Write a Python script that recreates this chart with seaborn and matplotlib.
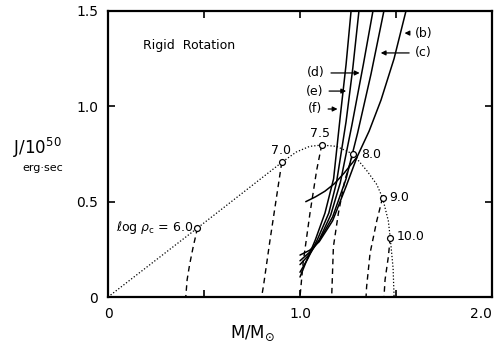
import matplotlib
matplotlib.use("Agg")
import matplotlib.pyplot as plt
import seaborn as sns

# critical (mass-shedding) points, labelled by log rho_c
crit_labels = ["6.0", "7.0", "7.5", "8.0", "9.0", "10.0"]
crit_mass = [0.466, 0.905, 1.113, 1.276, 1.43, 1.47]
crit_j = [0.362, 0.706, 0.797, 0.75, 0.52, 0.31]

# dotted envelope through the critical points
limit_mass = [0.0, 0.466, 0.905, 0.98, 1.05, 1.113, 1.19, 1.276, 1.35, 1.40, 1.43, 1.46, 1.47, 1.485, 1.49]
limit_j = [0.0, 0.362, 0.706, 0.76, 0.79, 0.797, 0.79, 0.75, 0.66, 0.59, 0.52, 0.40, 0.31, 0.15, 0.0]

# dashed constant-density sequences
seq60_mass = [0.466, 0.443, 0.425, 0.412, 0.405]
seq60_j = [0.362, 0.26, 0.17, 0.09, 0.0]
seq70_mass = [0.905, 0.878, 0.844, 0.81, 0.80]
seq70_j = [0.706, 0.526, 0.30, 0.06, 0.0]
seq75_mass = [1.113, 1.087, 1.052, 1.016, 1.0]
seq75_j = [0.797, 0.666, 0.44, 0.178, 0.0]
seq80_mass = [1.276, 1.234, 1.20, 1.174, 1.165]
seq80_j = [0.75, 0.614, 0.44, 0.264, 0.0]
seq90_mass = [1.43, 1.40, 1.365, 1.347, 1.344]
seq90_j = [0.52, 0.40, 0.23, 0.054, 0.0]
seq100_mass = [1.47, 1.46, 1.443, 1.4375]
seq100_j = [0.31, 0.21, 0.09, 0.0]

# solid evolutionary curves
curve_b_mass = [1.03, 1.08, 1.13, 1.18, 1.23, 1.297, 1.36, 1.422, 1.49, 1.552]
curve_b_j = [0.50, 0.525, 0.555, 0.595, 0.65, 0.734, 0.87, 1.033, 1.25, 1.5]
curve_c_mass = [1.00, 1.05, 1.10, 1.17, 1.24, 1.30, 1.37, 1.437]
curve_c_j = [0.19, 0.235, 0.295, 0.42, 0.62, 0.86, 1.17, 1.5]
curve_d_mass = [1.00, 1.05, 1.10, 1.16, 1.21, 1.27, 1.33, 1.38]
curve_d_j = [0.17, 0.225, 0.30, 0.43, 0.60, 0.90, 1.22, 1.5]
curve_e_mass = [1.00, 1.04, 1.09, 1.15, 1.19, 1.24, 1.275, 1.307]
curve_e_j = [0.13, 0.20, 0.30, 0.44, 0.60, 0.92, 1.2, 1.5]
curve_f_mass = [1.00, 1.03, 1.08, 1.13, 1.175, 1.21, 1.24, 1.266]
curve_f_j = [0.105, 0.18, 0.30, 0.44, 0.62, 0.95, 1.22, 1.5]
curve_x_mass = [1.00, 1.05, 1.10, 1.17, 1.24, 1.297]
curve_x_j = [0.22, 0.245, 0.29, 0.40, 0.58, 0.734]

sns.set_theme(style="ticks")
plt.rcParams["font.family"] = ["DejaVu Sans"]
plt.rcParams["text.color"] = "black"
plt.rcParams["axes.labelcolor"] = "black"

fig = plt.figure(figsize=(5.01, 3.51), dpi=100)
ax = fig.add_axes([0.2156, 0.1538, 0.7664, 0.8149])

sns.lineplot(x=limit_mass, y=limit_j, sort=False, estimator=None, ax=ax,
             color="black", lw=0.9, linestyle=(0, (1, 1.6)))

for m, j in [(seq60_mass, seq60_j), (seq70_mass, seq70_j), (seq75_mass, seq75_j),
             (seq80_mass, seq80_j), (seq90_mass, seq90_j), (seq100_mass, seq100_j)]:
    sns.lineplot(x=m, y=j, sort=False, estimator=None, ax=ax,
                 color="black", lw=1.0, linestyle=(0, (4, 3)))

for m, j in [(curve_b_mass, curve_b_j), (curve_c_mass, curve_c_j), (curve_d_mass, curve_d_j),
             (curve_e_mass, curve_e_j), (curve_f_mass, curve_f_j), (curve_x_mass, curve_x_j)]:
    sns.lineplot(x=m, y=j, sort=False, estimator=None, ax=ax, color="black", lw=1.1)

sns.scatterplot(x=crit_mass, y=crit_j, ax=ax, s=18, facecolor="white",
                edgecolor="black", linewidth=0.9, zorder=5)

# labels of the critical points
ax.text(0.443, 0.362, r"$\ell$og $\rho_{\rm c}$ = 6.0", ha="right", va="center", fontsize=9)
ax.text(0.90, 0.766, "7.0", ha="center", va="center", fontsize=9)
ax.text(1.104, 0.855, "7.5", ha="center", va="center", fontsize=9)
ax.text(1.32, 0.745, "8.0", ha="left", va="center", fontsize=9)
ax.text(1.465, 0.52, "9.0", ha="left", va="center", fontsize=9)
ax.text(1.505, 0.315, "10.0", ha="left", va="center", fontsize=9)
ax.text(0.18, 1.32, "Rigid  Rotation", ha="left", va="center", fontsize=9)

arrow = dict(arrowstyle="-|>", color="black", lw=0.9, mutation_scale=7)
ax.annotate("(b)", xy=(1.53, 1.384), xytext=(1.60, 1.384), va="center", ha="left",
            fontsize=9, arrowprops=arrow)
ax.annotate("(c)", xy=(1.406, 1.28), xytext=(1.60, 1.28), va="center", ha="left",
            fontsize=9, arrowprops=arrow)
ax.annotate("(d)", xy=(1.325, 1.175), xytext=(1.13, 1.175), va="center", ha="right",
            fontsize=9, arrowprops=arrow)
ax.annotate("(e)", xy=(1.255, 1.08), xytext=(1.12, 1.08), va="center", ha="right",
            fontsize=9, arrowprops=arrow)
ax.annotate("(f)", xy=(1.21, 0.986), xytext=(1.115, 0.986), va="center", ha="right",
            fontsize=9, arrowprops=arrow)

ax.set_xlim(0, 2.0)
ax.set_ylim(0, 1.5)
ax.set_xticks([0, 0.5, 1.0, 1.5, 2.0])
ax.set_xticklabels(["0", "", "1.0", "", "2.0"])
ax.get_xticklabels()[-1].set_horizontalalignment("right")
ax.set_yticks([0, 0.5, 1.0, 1.5])
ax.set_yticklabels(["0", "0.5", "1.0", "1.5"])
ax.tick_params(direction="in", length=5, width=1.2, top=True, right=True,
               labelsize=10, pad=7, colors="black")
for s in ax.spines.values():
    s.set_visible(True)
    s.set_linewidth(1.6)
    s.set_color("black")
ax.set_xlabel("")
ax.set_ylabel("")

fig.text(0.075, 0.578, r"J/10$^{50}$", ha="center", va="center", fontsize=12)
fig.text(0.085, 0.52, "erg·sec", ha="center", va="center", fontsize=8)
fig.text(0.505, 0.05, r"M/M$_{\odot}$", ha="center", va="center", fontsize=12)

fig.savefig("out.png", dpi=100)
